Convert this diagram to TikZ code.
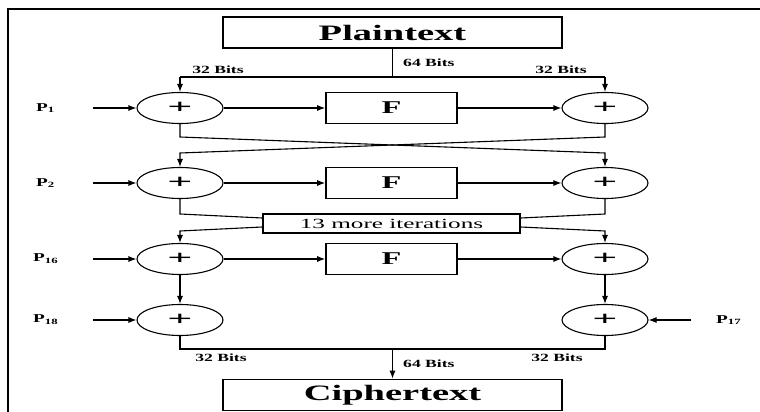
\documentclass[tikz,border=0pt]{standalone}
\usepackage{fontspec}
\setmainfont{Liberation Serif}
\usetikzlibrary{arrows.meta,shapes.geometric}
\newcommand\stx[2][1.75]{\scalebox{#1}[1]{#2}}
\begin{document}
\begin{tikzpicture}[x=1pt,y=-1pt,
  ln/.style={line width=1.1pt},
  arr/.style={ln,-{Latex[length=8pt,width=6pt]}},
  bigbox/.style={draw,line width=1.6pt,inner sep=0pt,minimum width=339pt,minimum height=31pt,font=\fontsize{22}{24}\selectfont\bfseries},
  fbox/.style={draw,line width=1.6pt,inner sep=0pt,minimum width=131pt,minimum height=31pt,font=\fontsize{18}{20}\selectfont\bfseries},
  itbox/.style={draw,line width=1.4pt,inner sep=0pt,minimum width=257pt,minimum height=19pt,font=\fontsize{14}{14}\selectfont},
  xor/.style={draw,ellipse,line width=1.1pt,inner sep=0pt,minimum width=86pt,minimum height=31pt,font=\fontsize{20}{20}\selectfont\bfseries},
  bits/.style={font=\fontsize{11}{11}\selectfont\bfseries,inner sep=0pt},
  plab/.style={font=\fontsize{12}{12}\selectfont\bfseries,inner sep=0pt,anchor=west},
]
\useasboundingbox[fill=white] (0,0) rectangle (760,412);
% frame
\draw[line width=2.5pt] (8,412) -- (8,9) -- (760,9);

% boxes
\node[bigbox] (plain) at (392.5,32.5) {\stx{Plaintext}};
\node[bigbox] (ciph) at (392.5,395) {\stx{Ciphertext}};

% rows
\foreach \r/\y in {1/108,2/183,3/259,4/320}{
  \node[xor] (l\r) at (180,\y) {\stx[2.2]{+}};
  \node[xor] (r\r) at (605,\y) {\stx[2.2]{+}};
}
\foreach \r/\y in {1/108,2/183,3/259}{
  \node[fbox] (f\r) at (391.5,\y) {\stx[1.8]{F}};
  \draw[arr] (l\r) -- (f\r);
  \draw[arr] (f\r) -- (r\r);
}
\node[itbox] (it) at (391.5,223.5) {\stx[1.8]{13 more iterations}};

% P labels
\node[plab] (p1) at (36,108) {\stx[1.6]{P\textsubscript{1}}};
\node[plab] (p2) at (36,183) {\stx[1.6]{P\textsubscript{2}}};
\node[plab] (p16) at (33,259) {\stx[1.6]{P\textsubscript{16}}};
\node[plab] (p18) at (33,320) {\stx[1.6]{P\textsubscript{18}}};
\node[plab] (p17) at (716,320) {\stx[1.6]{P\textsubscript{17}}};
\coordinate (a1) at (93,108);
\coordinate (a2) at (93,183);
\coordinate (a16) at (93,259);
\coordinate (a18) at (93,320);
\coordinate (a17) at (691,320);
\draw[arr] (a1) -- (l1);
\draw[arr] (a2) -- (l2);
\draw[arr] (a16) -- (l3);
\draw[arr] (a18) -- (l4);
\draw[arr] (a17) -- (r4);

% top split
\coordinate (tm) at (392.5,77);
\coordinate (tl) at (180,77);
\coordinate (tr) at (605,77);
\draw[ln] (plain.south) -- (tm);
\draw[ln] (tl) -- (tr);
\draw[arr] (tl) -- (l1.north);
\draw[arr] (tr) -- (r1.north);
\node[bits,anchor=west] (b64t) at (403,63) {\stx[1.6]{64 Bits}};
\node[bits] (b32tl) at (218,70) {\stx[1.6]{32 Bits}};
\node[bits] (b32tr) at (561,70) {\stx[1.6]{32 Bits}};

% crossing
\draw[arr] (l1.south) -- (180,137) -- (605,153) -- (r2.north);
\draw[arr] (r1.south) -- (605,137) -- (180,153) -- (l2.north);

% into/out of iterations box
\draw[ln] (l2.south) -- (180,214) -- ([yshift=5.5pt]it.west);
\draw[ln] (r2.south) -- (605,214) -- ([yshift=5.5pt]it.east);
\draw[arr] ([yshift=-3.5pt]it.west) -- (180,231) -- (l3.north);
\draw[arr] ([yshift=-3.5pt]it.east) -- (605,231) -- (r3.north);

% row 3 to row 4
\draw[arr] (l3) -- (l4);
\draw[arr] (r3) -- (r4);

% bottom join
\coordinate (bm) at (392.5,349);
\draw[ln] (l4.south) -- (180,349) -- (605,349) -- (r4.south);
\draw[arr] (bm) -- (ciph.north);
\node[bits] (b32bl) at (221,358) {\stx[1.6]{32 Bits}};
\node[bits] (b32br) at (557,358) {\stx[1.6]{32 Bits}};
\node[bits,anchor=west] (b64b) at (403,364) {\stx[1.6]{64 Bits}};
\end{tikzpicture}
\end{document}
